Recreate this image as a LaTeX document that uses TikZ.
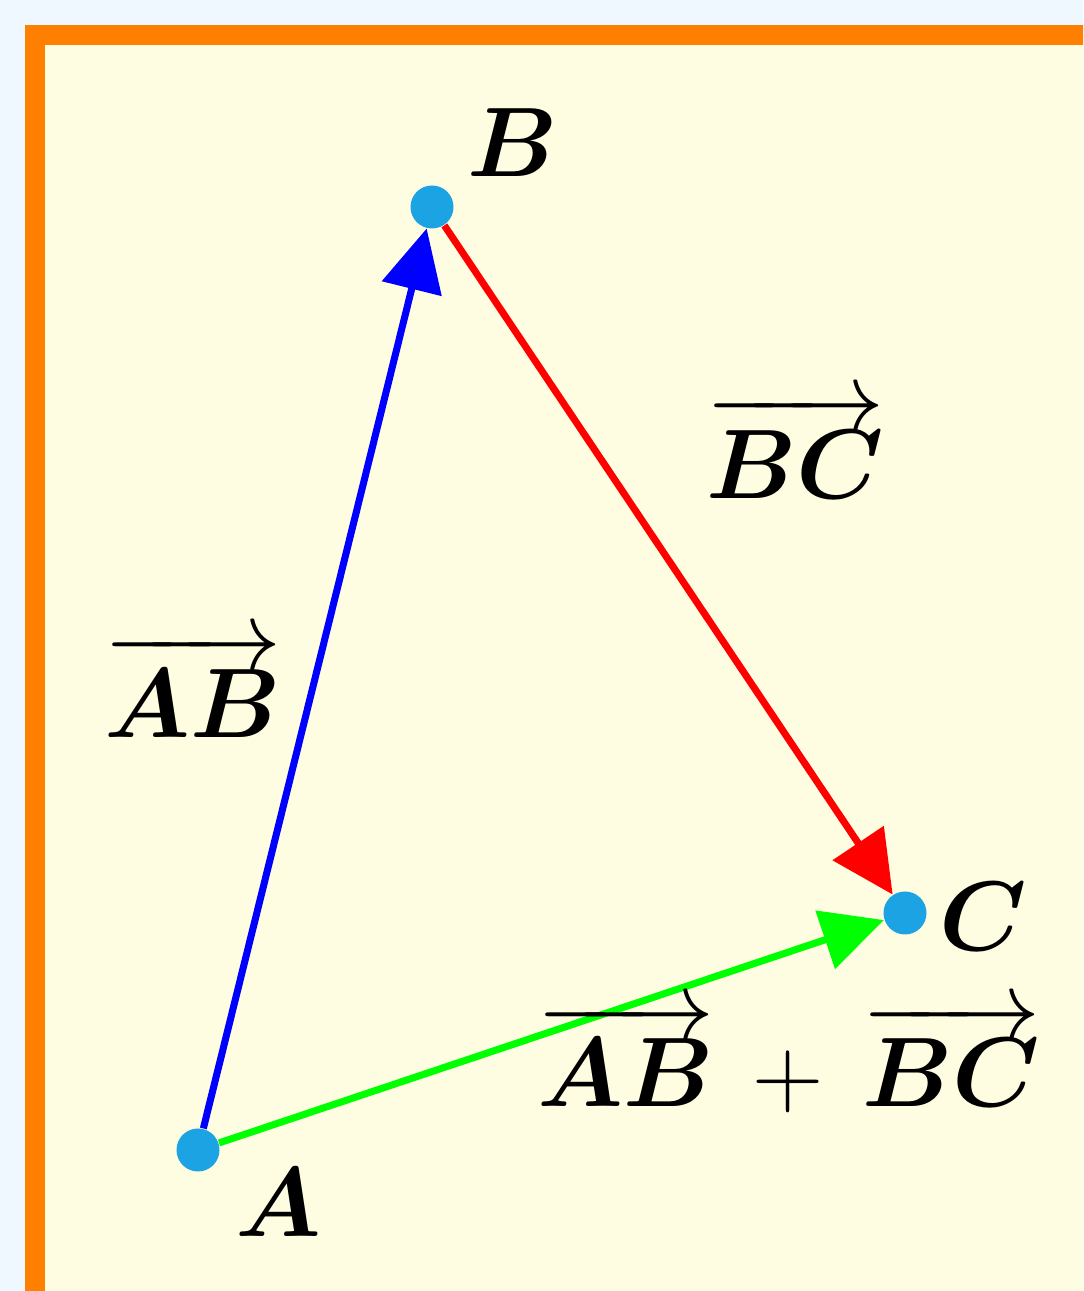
\documentclass[tikz,border=0pt]{standalone}
\usepackage{amsmath}
\usepackage{amsbsy}
\usetikzlibrary{arrows.meta}

\definecolor{pagebg}{HTML}{F0F8FF}
\definecolor{paperfill}{HTML}{FFFDE1}
\definecolor{frameorange}{HTML}{FF8000}
\definecolor{dotcyan}{HTML}{1BA3E3}

\begin{document}
\begin{tikzpicture}[
    lab/.style={font=\Huge, scale=1.13, transform shape},
    pt/.style={circle, fill=dotcyan, inner sep=0pt, minimum size=4.3mm},
    vec/.style={line width=2pt, -{Triangle[length=6.2mm, width=6mm]}},
]

% === Page and frame ===
\fill[pagebg] (0,0) rectangle (10.83,12.91);
\clip (0,0) rectangle (10.83,12.91);
\draw[frameorange, line width=2mm, fill=paperfill] (0.35,-1) rectangle (12,12.56);

% === Points ===
\node[pt] (A) at (1.98,1.41) {};
\node[pt] (B) at (4.32,10.84) {};
\node[pt] (C) at (9.05,3.78) {};

\node[lab] (labA) at (2.78,0.88) {$\boldsymbol{A}$};
\node[lab] (labB) at (5.13,11.48) {$\boldsymbol{B}$};
\node[lab] (labC) at (9.83,3.74) {$\boldsymbol{C}$};

% === Vectors ===
\draw[vec, blue] (A) -- (B);
\draw[vec, red] (B) -- (C);
\draw[vec, green] (A) -- (C);

% === Vector labels ===
\node[lab] (labAB) at (1.93,6.06) {$\overrightarrow{\boldsymbol{AB}}$};
\node[lab] (labBC) at (7.95,8.45) {$\overrightarrow{\boldsymbol{BC}}$};
\node[lab] (labSum) at (7.89,2.33) {$\overrightarrow{\boldsymbol{AB}}\,+\,\overrightarrow{\boldsymbol{BC}}$};

\end{tikzpicture}
\end{document}
